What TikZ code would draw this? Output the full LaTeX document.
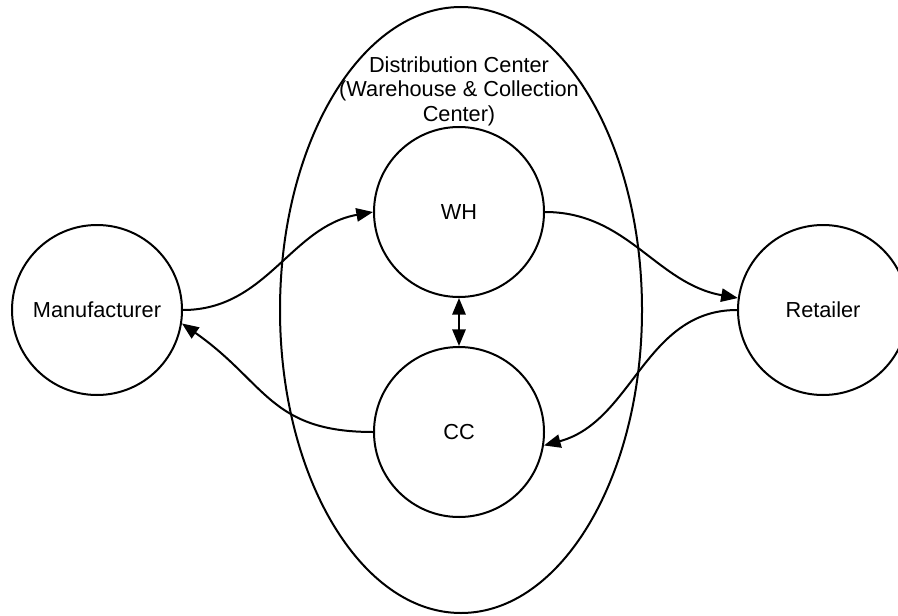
\documentclass[tikz,border=0pt]{standalone}
\usepackage{fontspec}
\setmainfont{Liberation Sans}
\usepackage{tikz}
\usetikzlibrary{arrows.meta,shapes.geometric,positioning}

\begin{document}
\begin{tikzpicture}[x=0.75pt,y=0.75pt,
    every node/.append style={font=\fontsize{16.3}{18.3}\selectfont},
    station/.style={draw,circle,line width=1.5pt,minimum size=127.5pt,inner sep=0pt},
    flow/.style={->,line width=1.5pt},
    >={Triangle[length=12.5pt,width=10pt]}]
      \useasboundingbox (0,0) rectangle (898,615);
      \node[draw,ellipse,line width=1.5pt,minimum width=271.5pt,minimum height=454.5pt,inner sep=0pt] at (461,305) (dc) {};
      \node[align=center] at (459,524) (dclabel) {Distribution Center\\(Warehouse \& Collection\\Center)};
      \node[station] at (97,305) (mf) {Manufacturer};
      \node[station] at (459,403) (wh) {WH};
      \node[station] at (459,183) (cc) {CC};
      \node[station] at (823,305) (rt) {Retailer};
      \draw[flow] (mf.east) to [out=0,in=190] (wh.west);
      \draw[flow] (wh.east) to [out=0,in=170] (rt.172);
      \draw[flow] (rt.west) to [out=180,in=15] (cc.-9);
      \draw[flow] (cc.west) to [out=180,in=-35,looseness=1.2] (mf.-9);
      \draw[flow,<->] (wh) -- (cc);
\end{tikzpicture}
\end{document}
